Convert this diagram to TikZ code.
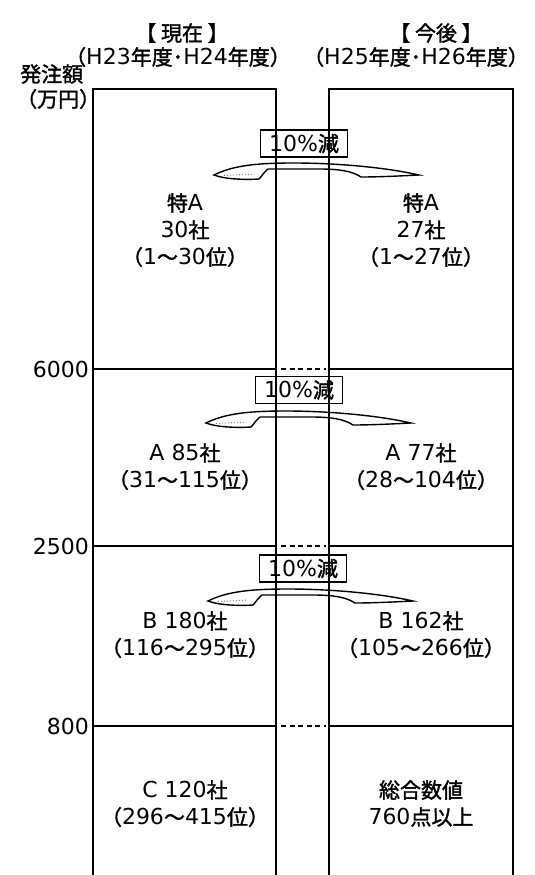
\documentclass[tikz,border=0pt]{standalone}
\usepackage{fontspec}
\setmainfont{Noto Sans CJK JP}[AutoFakeBold=1.6]
\newfontfamily\latfont{DejaVu Sans}
\newcommand\LT[1]{{\mdseries\latfont\fontsize{22}{22}\selectfont #1}}
\begin{document}
\begin{tikzpicture}[x=1pt,y=-1pt,
  every node/.style={font=\fontsize{21}{21}\selectfont\bfseries, inner sep=0pt},
  colline/.style={line width=1.8pt},
  hline/.style={line width=1.4pt},
  dashline/.style={line width=1.6pt, dash pattern=on 5pt off 3.5pt},
  redbox/.style={draw, line width=1.2pt, minimum width=87pt, minimum height=27pt},
  swoosh/.pic={
    \draw[line width=1.4pt, fill=white]
      (0,12) .. controls (20,2) and (45,0) .. (80,0)
      .. controls (120,0) and (170,4) .. (205,12)
      .. controls (185,13) and (165,14) .. (147,14)
      .. controls (138,8) and (125,6) .. (105,6)
      -- (54,6) .. controls (50,9) and (48,13) .. (45,16)
      .. controls (30,17) and (10,16) .. (0,12) -- cycle;
    \draw[gray, dotted, line width=1pt] (10,12.5) -- (40,11);
  }]
\useasboundingbox (0,0) rectangle (535,875);

% headings
\node (h1) at (182,33) {【 現在 】};
\node (h2) at (178,57) {（\LT{H23}年度･\LT{H24}年度）};
\node (h3) at (436,33) {【 今後 】};
\node (h4) at (416,57) {（\LT{H25}年度･\LT{H26}年度）};
\node[anchor=west] (yl1) at (20,74) {発注額};
\node[anchor=west] (yl2) at (16,99) {（万円）};

% swooshes and reduction boxes
\pic at (214,163) {swoosh};
\pic at (206,411) {swoosh};
\pic at (208,589) {swoosh};
\node[redbox] (r1) at (304,143.5) {\LT{10\%}減};
\node[redbox] (r2) at (299,390) {\LT{10\%}減};
\node[redbox] (r3) at (303,568.5) {\LT{10\%}減};

% columns
\draw[colline] (93,875) -- (93,89) -- (276,89) -- (276,875);
\draw[colline] (329,875) -- (329,89) -- (513,89) -- (513,875);

% level lines
\foreach \yy in {369,546,726}{
  \draw[hline] (93,\yy) -- (276,\yy);
  \draw[hline] (329,\yy) -- (513,\yy);
  \draw[dashline] (281,\yy) -- (326,\yy);
}
\node[anchor=east] (v1) at (89,369) {\LT{6000}};
\node[anchor=east] (v2) at (89,546) {\LT{2500}};
\node[anchor=east] (v3) at (89,726) {\LT{800}};

% left column texts
\node (l1) at (185,203) {特\LT{A}};
\node (l2) at (185,230) {\LT{30}社};
\node (l3) at (185,257) {（\LT{1}～\LT{30}位）};
\node (l4) at (185,453) {\LT{A 85}社};
\node (l5) at (185,480) {（\LT{31}～\LT{115}位）};
\node (l6) at (185,621) {\LT{B 180}社};
\node (l7) at (185,648) {（\LT{116}～\LT{295}位）};
\node (l8) at (185,790) {\LT{C 120}社};
\node (l9) at (185,817) {（\LT{296}～\LT{415}位）};

% right column texts
\node (m1) at (421,203) {特\LT{A}};
\node (m2) at (421,230) {\LT{27}社};
\node (m3) at (421,257) {（\LT{1}～\LT{27}位）};
\node (m4) at (421,453) {\LT{A 77}社};
\node (m5) at (421,480) {（\LT{28}～\LT{104}位）};
\node (m6) at (421,621) {\LT{B 162}社};
\node (m7) at (421,648) {（\LT{105}～\LT{266}位）};
\node (m8) at (421,790) {総合数値};
\node (m9) at (421,817) {\LT{760}点以上};
\end{tikzpicture}
\end{document}
